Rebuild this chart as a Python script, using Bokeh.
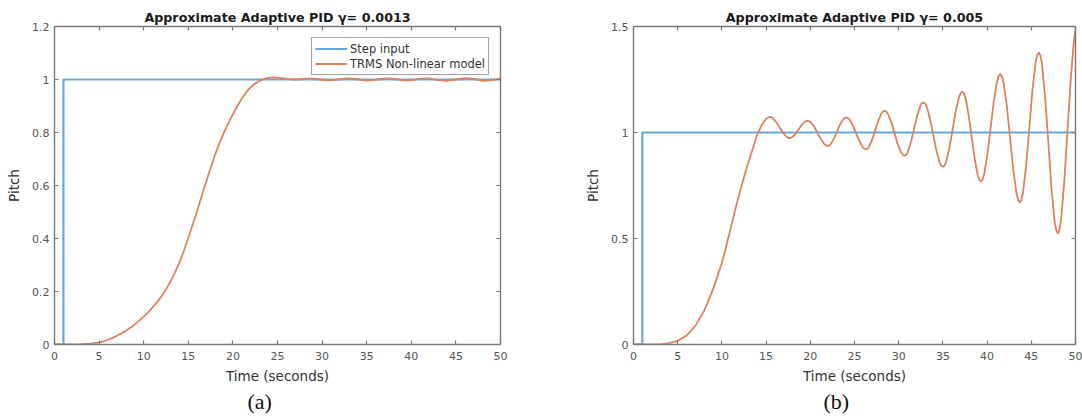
from bokeh.plotting import figure
from bokeh.models import LinearAxis, Range1d, Legend, LegendItem, Title, FixedTicker
from bokeh.layouts import row
from bokeh.embed import file_html
from bokeh.resources import INLINE

# ---- data -------------------------------------------------------------
step_t = [0, 1, 1, 50]
step_v = [0, 0, 1, 1]

# response with gamma = 0.0013
pitch_a_t = [0, 1, 2, 3, 4, 5, 5.5, 6, 6.5, 7, 7.5, 8, 8.5, 9, 9.5, 10,
             10.5, 11, 11.5, 12, 12.5, 13, 13.5, 14, 14.5, 15, 15.5, 16,
             16.5, 17, 17.5, 18, 18.5, 19, 19.5, 20, 20.5, 21, 21.5, 22,
             22.5, 23, 23.5, 24, 24.5, 25, 26, 27, 28, 29, 30, 31, 32, 33,
             34, 35, 36, 37, 38, 39, 40, 41, 42, 43, 44, 45, 46, 47, 48, 49, 50]
pitch_a_v = [0, 0, 0, 0.001, 0.003, 0.008, 0.012, 0.018, 0.025, 0.033, 0.042,
             0.052, 0.063, 0.076, 0.09, 0.105, 0.121, 0.14, 0.16, 0.183, 0.208,
             0.237, 0.271, 0.309, 0.353, 0.402, 0.453, 0.505, 0.56, 0.613, 0.666,
             0.716, 0.761, 0.8, 0.836, 0.869, 0.9, 0.928, 0.952, 0.971, 0.985,
             0.995, 1.002, 1.006, 1.008, 1.007, 1.002, 1.0, 1.003, 1.003, 0.999,
             0.997, 1.001, 1.004, 1.001, 0.996, 0.999, 1.004, 1.003, 0.997,
             0.997, 1.003, 1.004, 0.998, 0.995, 1.0, 1.005, 1.002, 0.995,
             0.997, 1.004]

# response with gamma = 0.005
pitch_b_t = [0, 1, 2, 3, 4, 5, 6, 7, 8, 9, 10, 10.5, 11, 11.5, 12, 12.5, 13,
             13.5, 14, 14.5, 15, 15.4,
             15.59, 15.78, 16.15, 16.53, 16.9, 17.28, 17.46, 17.65,
             17.82, 17.99, 18.33, 18.68, 19.02, 19.36, 19.53, 19.7,
             19.89, 20.08, 20.46, 20.84, 21.22, 21.6, 21.79, 21.98,
             22.15, 22.33, 22.67, 23.02, 23.37, 23.71, 23.89, 24.06,
             24.25, 24.43, 24.81, 25.18, 25.55, 25.93, 26.11, 26.3,
             26.48, 26.65, 27.0, 27.35, 27.7, 28.05, 28.23, 28.4,
             28.59, 28.78, 29.15, 29.53, 29.9, 30.28, 30.46, 30.65,
             30.83, 31.01, 31.37, 31.73, 32.08, 32.44, 32.62, 32.8,
             32.98, 33.17, 33.53, 33.9, 34.27, 34.63, 34.82, 35.0,
             35.18, 35.37, 35.73, 36.1, 36.47, 36.83, 37.02, 37.2,
             37.38, 37.55, 37.9, 38.25, 38.6, 38.95, 39.13, 39.3,
             39.48, 39.67, 40.03, 40.4, 40.77, 41.13, 41.32, 41.5,
             41.68, 41.87, 42.23, 42.6, 42.97, 43.33, 43.52, 43.7,
             43.88, 44.06, 44.42, 44.78, 45.13, 45.49, 45.67, 45.85,
             46.03, 46.21, 46.57, 46.93, 47.28, 47.64, 47.82, 48.0,
             48.18, 48.37, 48.73, 49.1, 49.47, 49.83, 50.0]
pitch_b_v = [0, 0, 0, 0.001, 0.006, 0.017, 0.042, 0.088, 0.16, 0.26, 0.385,
             0.465, 0.55, 0.635, 0.715, 0.79, 0.86, 0.925, 0.99, 1.035, 1.065,
             1.074,
             1.072, 1.067, 1.049, 1.024, 0.999, 0.981, 0.976, 0.974,
             0.975, 0.979, 0.994, 1.015, 1.035, 1.050, 1.054, 1.055,
             1.053, 1.047, 1.026, 0.996, 0.967, 0.945, 0.939, 0.937,
             0.939, 0.946, 0.971, 1.004, 1.038, 1.062, 1.069, 1.071,
             1.068, 1.061, 1.034, 0.996, 0.959, 0.931, 0.924, 0.921,
             0.924, 0.933, 0.966, 1.012, 1.057, 1.090, 1.099, 1.102,
             1.098, 1.088, 1.049, 0.996, 0.943, 0.904, 0.894, 0.890,
             0.894, 0.907, 0.953, 1.016, 1.079, 1.125, 1.138, 1.142,
             1.137, 1.122, 1.066, 0.990, 0.914, 0.858, 0.843, 0.838,
             0.844, 0.862, 0.927, 1.015, 1.104, 1.168, 1.186, 1.192,
             1.185, 1.164, 1.086, 0.981, 0.875, 0.797, 0.776, 0.769,
             0.778, 0.803, 0.896, 1.023, 1.149, 1.242, 1.267, 1.276,
             1.266, 1.235, 1.125, 0.973, 0.822, 0.711, 0.680, 0.670,
             0.682, 0.717, 0.847, 1.024, 1.201, 1.331, 1.366, 1.378,
             1.363, 1.321, 1.164, 0.951, 0.737, 0.580, 0.538, 0.523,
             0.540, 0.589, 0.768, 1.013, 1.258, 1.437, 1.483]

x_ticks = [0, 5, 10, 15, 20, 25, 30, 35, 40, 45, 50]
x_tick_labels = ["0", "5", "10", "15", "20", "25", "30", "35", "40", "45", "50"]
y_ticks_a = [0, 0.2, 0.4, 0.6, 0.8, 1, 1.2]
y_tick_labels_a = ["0", "0.2", "0.4", "0.6", "0.8", "1", "1.2"]
y_ticks_b = [0, 0.5, 1, 1.5]
y_tick_labels_b = ["0", "0.5", "1", "1.5"]

# ---- styling ----------------------------------------------------------
BLUE = "#64a9de"
ORANGE = "#e2805c"
BOX = "#777777"
TICK_TXT = "#555555"
FONT = "DejaVu Sans"


def style_axis(ax, ticks, labels=None, standoff=5):
    ax.ticker = FixedTicker(ticks=ticks)
    ax.axis_line_color = BOX
    ax.axis_line_width = 1.4
    ax.major_tick_line_color = BOX
    ax.major_tick_line_width = 1.2
    ax.major_tick_in = 4
    ax.major_tick_out = 0
    ax.minor_tick_line_color = None
    if labels is None:
        # box edge only: ticks, no labels
        ax.major_label_text_color = None
        ax.major_label_text_font_size = "1px"
        ax.major_label_standoff = 0
    else:
        ax.major_label_overrides = {t: s for t, s in zip(ticks, labels)}
        ax.major_label_text_font = FONT
        ax.major_label_text_font_size = "11px"
        ax.major_label_text_color = TICK_TXT
        ax.major_label_standoff = standoff
        ax.axis_label_text_font = FONT
        ax.axis_label_text_font_size = "13.5px"
        ax.axis_label_text_font_style = "normal"
        ax.axis_label_text_color = "#333333"


def panel(title, t, v, y_max, y_ticks, y_labels, width, left, right,
          top, bottom, tag, tag_offset):
    p = figure(width=width, height=419, output_backend="svg",
               toolbar_location=None,
               x_range=Range1d(0, 50), y_range=Range1d(0, y_max),
               min_border_left=left, min_border_right=right,
               min_border_top=top, min_border_bottom=bottom)
    p.outline_line_color = None
    p.xgrid.visible = False
    p.ygrid.visible = False
    p.background_fill_color = "white"
    p.border_fill_color = "white"

    p.title.text = title
    p.title.align = "center"
    p.title.text_font = FONT
    p.title.text_font_size = "12.7px"
    p.title.text_font_style = "bold"
    p.title.text_color = "#1a1a1a"
    p.title.standoff = 4

    style_axis(p.xaxis[0], x_ticks, x_tick_labels, standoff=7)
    p.xaxis[0].axis_label = "Time (seconds)"
    p.xaxis[0].axis_label_standoff = 5
    style_axis(p.yaxis[0], y_ticks, y_labels)
    p.yaxis[0].axis_label = "Pitch"
    p.yaxis[0].axis_label_standoff = 7

    top_ax = LinearAxis()
    style_axis(top_ax, x_ticks)
    p.add_layout(top_ax, "above")
    right_ax = LinearAxis()
    style_axis(right_ax, y_ticks)
    p.add_layout(right_ax, "right")

    r_step = p.line(step_t, step_v, line_color=BLUE, line_width=2.2)
    r_resp = p.line(t, v, line_color=ORANGE, line_width=1.8)

    # sub-figure caption under the axis label
    p.add_layout(Title(text=tag, align="left", offset=tag_offset,
                       text_font="Liberation Serif", text_font_size="22px",
                       text_font_style="normal", text_color="#111111",
                       standoff=0), "below")
    return p, r_step, r_resp


pa, step_a, resp_a = panel("Approximate Adaptive PID γ= 0.0013",
                           pitch_a_t, pitch_a_v, 1.2, y_ticks_a, y_tick_labels_a,
                           540, 54, 40, 25, 74, "(a)", 193)
legend = Legend(items=[LegendItem(label="Step input", renderers=[step_a]),
                       LegendItem(label="TRMS Non-linear model", renderers=[resp_a])],
                location="top_right", margin=11, padding=3, spacing=0,
                glyph_width=32, glyph_height=15, label_height=15,
                label_standoff=3, label_text_font=FONT,
                label_text_font_size="11.5px", label_text_color="#333333",
                border_line_color="#444444", border_line_width=1,
                background_fill_color="white", background_fill_alpha=1)
pa.add_layout(legend)

pb, _, _ = panel("Approximate Adaptive PID γ= 0.005",
                 pitch_b_t, pitch_b_v, 1.5, y_ticks_b, y_tick_labels_b,
                 542, 93, 7, 26, 75, "(b)", 190)

layout = row(pa, pb, spacing=0)
open("out.html", "w").write(file_html(layout, INLINE))
